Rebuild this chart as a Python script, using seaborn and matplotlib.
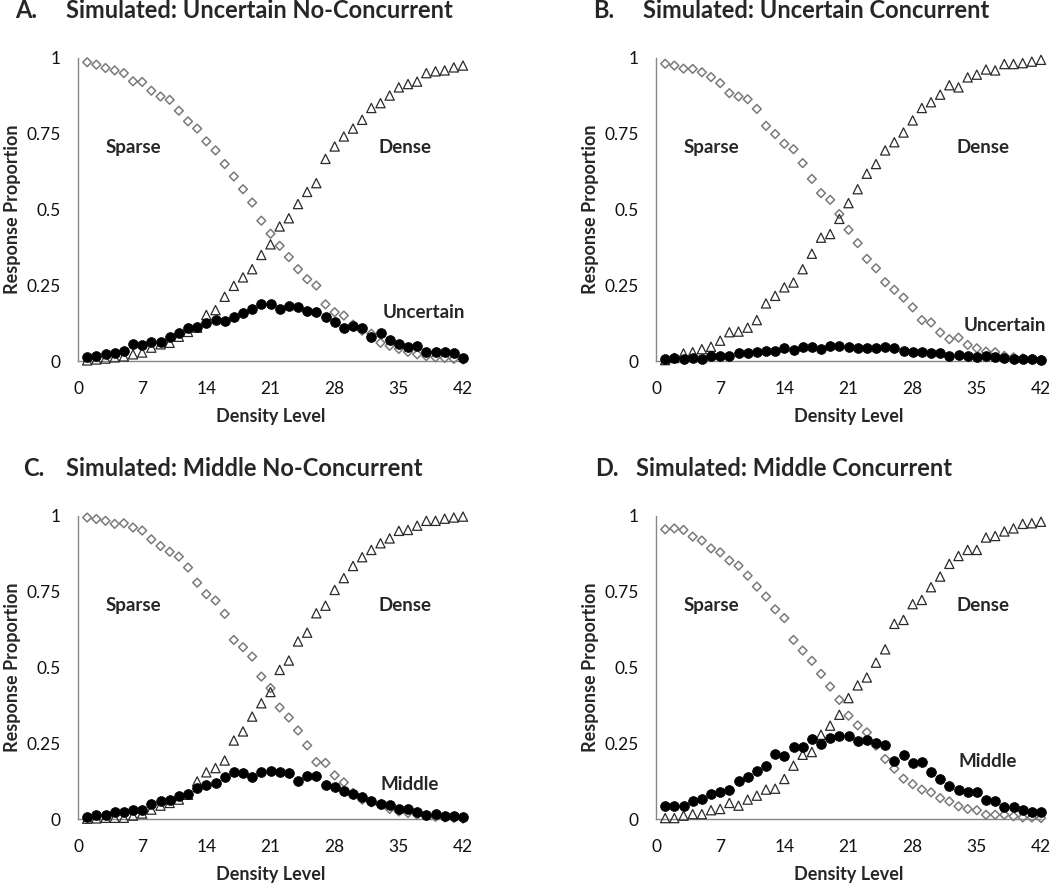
import matplotlib
matplotlib.use("Agg")
import matplotlib.pyplot as plt
import seaborn as sns
import numpy as np

levels = list(range(1, 43))

# Panel A: Uncertain No-Concurrent
a_sparse = [0.986, 0.978, 0.967, 0.959, 0.950, 0.923, 0.921, 0.892, 0.873, 0.862,
            0.826, 0.791, 0.767, 0.725, 0.695, 0.650, 0.609, 0.567, 0.523, 0.463,
            0.420, 0.380, 0.343, 0.303, 0.270, 0.249, 0.187, 0.161, 0.150, 0.120,
            0.100, 0.090, 0.060, 0.050, 0.040, 0.030, 0.022, 0.016, 0.012, 0.010,
            0.007, 0.005]
a_dense = [0.002, 0.005, 0.008, 0.012, 0.015, 0.022, 0.028, 0.044, 0.055, 0.060,
           0.080, 0.096, 0.110, 0.152, 0.168, 0.212, 0.248, 0.276, 0.303, 0.350,
           0.385, 0.444, 0.471, 0.518, 0.558, 0.587, 0.667, 0.708, 0.741, 0.767,
           0.796, 0.835, 0.851, 0.876, 0.903, 0.914, 0.922, 0.950, 0.956, 0.959,
           0.969, 0.975]
a_mid = [0.014, 0.016, 0.022, 0.028, 0.033, 0.056, 0.053, 0.062, 0.064, 0.080,
         0.091, 0.110, 0.113, 0.124, 0.135, 0.133, 0.144, 0.160, 0.172, 0.187,
         0.187, 0.173, 0.180, 0.177, 0.166, 0.163, 0.144, 0.130, 0.110, 0.117,
         0.110, 0.078, 0.091, 0.069, 0.056, 0.047, 0.051, 0.031, 0.029, 0.029,
         0.025, 0.011]

# Panel B: Uncertain Concurrent
b_sparse = [0.981, 0.975, 0.965, 0.964, 0.953, 0.937, 0.917, 0.884, 0.873, 0.864,
            0.832, 0.776, 0.749, 0.717, 0.699, 0.653, 0.601, 0.554, 0.532, 0.485,
            0.433, 0.389, 0.337, 0.306, 0.260, 0.235, 0.209, 0.177, 0.135, 0.127,
            0.094, 0.072, 0.077, 0.053, 0.042, 0.031, 0.029, 0.017, 0.012, 0.009,
            0.006, 0.003]
b_dense = [0.003, 0.010, 0.025, 0.029, 0.039, 0.047, 0.067, 0.095, 0.097, 0.110,
           0.135, 0.190, 0.215, 0.243, 0.259, 0.303, 0.354, 0.407, 0.419, 0.469,
           0.521, 0.567, 0.618, 0.650, 0.695, 0.722, 0.754, 0.794, 0.835, 0.854,
           0.879, 0.910, 0.903, 0.936, 0.945, 0.962, 0.959, 0.980, 0.980, 0.983,
           0.988, 0.994]
b_mid = [0.006, 0.011, 0.007, 0.009, 0.007, 0.018, 0.017, 0.017, 0.025, 0.025,
         0.031, 0.034, 0.034, 0.042, 0.036, 0.045, 0.045, 0.040, 0.051, 0.050,
         0.045, 0.042, 0.042, 0.042, 0.047, 0.042, 0.034, 0.029, 0.029, 0.025,
         0.025, 0.017, 0.020, 0.017, 0.012, 0.017, 0.012, 0.009, 0.007, 0.007,
         0.007, 0.003]

# Panel C: Middle No-Concurrent
c_sparse = [0.995, 0.990, 0.984, 0.974, 0.976, 0.962, 0.952, 0.923, 0.901, 0.882,
            0.866, 0.830, 0.780, 0.742, 0.721, 0.677, 0.591, 0.567, 0.536, 0.470,
            0.432, 0.368, 0.335, 0.292, 0.243, 0.188, 0.185, 0.144, 0.121, 0.086,
            0.064, 0.055, 0.047, 0.033, 0.025, 0.020, 0.014, 0.011, 0.007, 0.005,
            0.003, 0.001]
c_dense = [0.001, 0.002, 0.004, 0.004, 0.004, 0.011, 0.018, 0.031, 0.044, 0.053,
           0.064, 0.080, 0.124, 0.154, 0.168, 0.193, 0.259, 0.289, 0.338, 0.382,
           0.419, 0.492, 0.523, 0.586, 0.615, 0.679, 0.704, 0.756, 0.795, 0.835,
           0.864, 0.888, 0.910, 0.926, 0.951, 0.954, 0.968, 0.984, 0.984, 0.991,
           0.995, 0.998]
c_mid = [0.007, 0.012, 0.014, 0.022, 0.022, 0.029, 0.029, 0.049, 0.058, 0.064,
         0.077, 0.084, 0.102, 0.111, 0.119, 0.137, 0.154, 0.152, 0.138, 0.154,
         0.157, 0.154, 0.152, 0.127, 0.143, 0.141, 0.113, 0.104, 0.093, 0.082,
         0.071, 0.058, 0.049, 0.047, 0.034, 0.034, 0.022, 0.014, 0.018, 0.011,
         0.009, 0.007]

# Panel D: Middle Concurrent
d_sparse = [0.956, 0.959, 0.954, 0.932, 0.919, 0.893, 0.880, 0.853, 0.836, 0.803,
            0.767, 0.734, 0.692, 0.663, 0.591, 0.556, 0.522, 0.479, 0.437, 0.393,
            0.341, 0.309, 0.286, 0.242, 0.198, 0.166, 0.133, 0.115, 0.097, 0.088,
            0.069, 0.058, 0.042, 0.033, 0.029, 0.014, 0.014, 0.014, 0.009, 0.005,
            0.005, 0.003]
d_dense = [0.003, 0.003, 0.011, 0.016, 0.016, 0.029, 0.033, 0.053, 0.044, 0.064,
           0.077, 0.097, 0.100, 0.132, 0.176, 0.212, 0.221, 0.278, 0.308, 0.344,
           0.399, 0.441, 0.467, 0.516, 0.560, 0.644, 0.657, 0.709, 0.723, 0.765,
           0.800, 0.842, 0.868, 0.888, 0.888, 0.929, 0.934, 0.949, 0.959, 0.974,
           0.976, 0.981]
d_mid = [0.044, 0.044, 0.044, 0.058, 0.067, 0.084, 0.089, 0.097, 0.124, 0.138,
         0.157, 0.174, 0.214, 0.207, 0.237, 0.237, 0.264, 0.248, 0.267, 0.275,
         0.273, 0.259, 0.262, 0.251, 0.245, 0.193, 0.212, 0.185, 0.187, 0.154,
         0.132, 0.108, 0.095, 0.089, 0.089, 0.062, 0.058, 0.040, 0.038, 0.031,
         0.022, 0.022]

panel_letters = ["A.", "B.", "C.", "D."]
panel_titles = ["Simulated: Uncertain No-Concurrent", "Simulated: Uncertain Concurrent",
                "Simulated: Middle No-Concurrent", "Simulated: Middle Concurrent"]
mid_labels = ["Uncertain", "Uncertain", "Middle", "Middle"]
x_ticks = [0, 7, 14, 21, 28, 35, 42]
y_ticks = [0, 0.25, 0.5, 0.75, 1]
y_ticklabels = ["0", "0.25", "0.5", "0.75", "1"]

panels = [(a_sparse, a_dense, a_mid), (b_sparse, b_dense, b_mid),
          (c_sparse, c_dense, c_mid), (d_sparse, d_dense, d_mid)]

sns.set_style("white")
plt.rcParams["font.family"] = ["Lato", "DejaVu Sans"]

W, H = 1050, 883
fig = plt.figure(figsize=(W / 100, H / 100), dpi=100)

# axes geometry in pixels: (left, top) of plot area
geo = [(78, 58), (656, 58), (78, 516), (656, 516)]
aw, ah = 385, 303
letter_x = [15, 593, 23, 595]
title_x = [66, 643, 66, 636]
title_y = [10, 10, 468, 468]
mid_pos = [(37.7, 0.16), (38.1, 0.116), (36.2, 0.115), (36.2, 0.19)]
spine_col = "#878787"

for i, (sp, de, mi) in enumerate(panels):
    L, T = geo[i]
    ax = fig.add_axes([L / W, (H - T - ah) / H, aw / W, ah / H])
    sns.scatterplot(x=levels, y=sp, ax=ax, marker="D", s=20, facecolor="none",
                    edgecolor="#7a7a7a", linewidth=1.1, clip_on=False, zorder=3)
    sns.scatterplot(x=levels, y=de, ax=ax, marker="^", s=44, facecolor="none",
                    edgecolor="#2a2a2a", linewidth=0.9, clip_on=False, zorder=4)
    sns.scatterplot(x=levels, y=mi, ax=ax, marker="o", s=50, facecolor="black",
                    edgecolor="black", linewidth=0.5, clip_on=False, zorder=5)
    ax.set_xlim(0, 42)
    ax.set_ylim(0, 1)
    ax.set_xticks(x_ticks)
    ax.set_xticklabels([str(t) for t in x_ticks])
    ax.set_yticks(y_ticks)
    ax.set_yticklabels(y_ticklabels)
    for s in ["top", "right"]:
        ax.spines[s].set_visible(False)
    for s in ["left", "bottom"]:
        ax.spines[s].set_color(spine_col)
        ax.spines[s].set_linewidth(1.0)
    ax.tick_params(axis="both", direction="out", length=4.5, width=1.0,
                   color=spine_col, labelsize=12.5, labelcolor="#111111")
    ax.tick_params(axis="x", pad=10)
    ax.tick_params(axis="y", pad=8)
    ax.set_xlabel("Density Level", fontsize=13, fontweight="bold", labelpad=8)
    ax.set_ylabel("Response Proportion", fontsize=13, fontweight="bold", labelpad=4)
    ax.text(6.0, 0.705, "Sparse", fontsize=13.5, fontweight="bold", ha="center", va="center")
    ax.text(35.7, 0.705, "Dense", fontsize=13.5, fontweight="bold", ha="center", va="center")
    ax.text(mid_pos[i][0], mid_pos[i][1], mid_labels[i], fontsize=13.5,
            fontweight="bold", ha="center", va="center")
    fig.text(letter_x[i] / W, 1 - title_y[i] / H, panel_letters[i], fontsize=17,
             fontweight="bold", ha="left", va="center")
    fig.text(title_x[i] / W, 1 - title_y[i] / H, panel_titles[i], fontsize=17,
             fontweight="bold", ha="left", va="center")

fig.savefig("out.png", dpi=100)
